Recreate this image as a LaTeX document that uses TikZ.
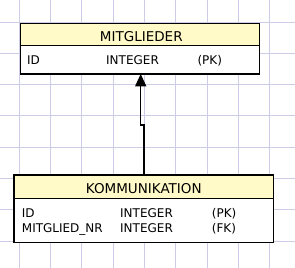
\documentclass[tikz,border=0pt]{standalone}
\usepackage{fontspec}
\setmainfont{DejaVu Sans}
\usetikzlibrary{arrows.meta}
\definecolor{gridc}{RGB}{204,204,230}
\definecolor{headc}{RGB}{255,250,200}
\begin{document}
\begin{tikzpicture}[x=1pt,y=-1pt,
  box/.style={draw=black,line width=1.3pt,inner sep=0pt,outer sep=0pt,rectangle},
  headbox/.style={box,fill=headc},
  bodybox/.style={box,fill=white},
  htext/.style={anchor=base,inner sep=0pt,font=\fontsize{13.5}{15}\selectfont},
  rtext/.style={anchor=base west,inner sep=0pt,font=\fontsize{12}{14}\selectfont},
  conn/.style={line width=1.3pt,-{Triangle[length=12.3pt,width=11pt]}}]
\useasboundingbox[fill=white] (0,0) rectangle (295,268);
% grid
\foreach \gx in {19.3,50.6,81.9,113.2,144.5,175.8,207.1,238.4,269.7}
  \draw[gridc,line width=1pt] (\gx,0) -- (\gx,268);
\foreach \gy in {22,53.3,84.6,115.9,147.2,178.5,209.8,241.1}
  \draw[gridc,line width=1pt] (0,\gy) -- (295,\gy);
% MITGLIEDER
\node[headbox,minimum width=238.6pt,minimum height=22pt] (mhead) at (140,34.3) {};
\node[bodybox,minimum width=238.6pt,minimum height=28.7pt] (mbody) at (140,59.65) {};
\node[htext] (mtitle) at (141.3,41) {MITGLIEDER};
\node[rtext] (mid) at (27,64.3) {ID};
\node[rtext] (mtype) at (106,64.3) {INTEGER};
\node[rtext] (mkey) at (197.3,64.3) {(PK)};
% KOMMUNIKATION
\node[headbox,minimum width=259.3pt,minimum height=23.3pt] (khead) at (143.65,186.65) {};
\node[bodybox,minimum width=259.3pt,minimum height=44.4pt] (kbody) at (143.65,220.5) {};
\node[htext] (ktitle) at (143.8,193.3) {KOMMUNIKATION};
\node[rtext] (kid) at (21.7,217.3) {ID};
\node[rtext] (ktype1) at (120,217.3) {INTEGER};
\node[rtext] (kkey1) at (211.7,217.3) {(PK)};
\node[rtext] (kfk) at (21.7,232.7) {MITGLIED\_NR};
\node[rtext] (ktype2) at (120,232.7) {INTEGER};
\node[rtext] (kkey2) at (211.7,232.7) {(FK)};
% connector
\coordinate (s) at (144,175);
\coordinate (j1) at (144,125);
\coordinate (j2) at (140.7,125);
\draw[conn] (s |- khead.north) -- (j1) -- (j2) -- (j2 |- mbody.south);
\end{tikzpicture}
\end{document}
